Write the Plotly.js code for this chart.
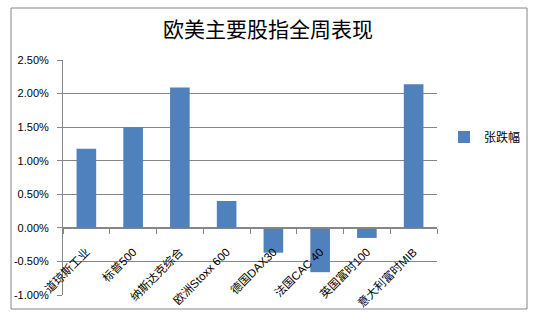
<!DOCTYPE html>
<html><head><meta charset="utf-8">
<script src="https://cdn.plot.ly/plotly-3.0.1.min.js"></script>
<style>html,body{margin:0;padding:0;background:#fff}</style>
</head><body><div id="c" style="width:540px;height:324px"></div>
<script>
const categories = ["道琼斯工业","标普500","纳斯达克综合","欧洲Stoxx 600","德国DAX30","法国CAC 40","英国富时100","意大利富时MIB"];
const values = [0.0118, 0.0150, 0.0209, 0.0040, -0.0037, -0.0066, -0.0015, 0.0214];
const seriesName = "张跌幅";
const yTicks = [-0.01,-0.005,0,0.005,0.01,0.015,0.02,0.025];
const yTickText = ["-1.00%","-0.50%","0.00%","0.50%","1.00%","1.50%","2.00%","2.50%"];

const font = "Liberation Sans, Noto Sans CJK SC, sans-serif";
const L=63, R=437, T=60, B=295;
const pw=R-L, ph=B-T;
const yMin=-0.01, yMax=0.025;
const zeroPos=(0-yMin)/(yMax-yMin);

Plotly.newPlot('c',[{
  type:'bar', x:categories, y:values, name:seriesName,
  marker:{color:'#4F81BD', line:{width:0}},
  showlegend:true
}],{
  width:540, height:324,
  margin:{l:L, r:540-R, t:T, b:324-B, pad:0},
  paper_bgcolor:'#fff', plot_bgcolor:'#fff',
  bargap:0.58,
  title:{text:'欧美主要股指全周表现', x:268/540, xref:'container', xanchor:'center', y:1-30/324, yanchor:'middle',
    font:{family:'Noto Sans CJK SC, sans-serif', size:21, color:'#000'}},
  xaxis:{anchor:'free', position:zeroPos, showline:true, linecolor:'#868686', linewidth:1,
    ticks:'outside', tickson:'boundaries', ticklen:5, tickcolor:'#868686', ticklabelstandoff:12,
    tickangle:-45, tickfont:{family:font, size:11.5, color:'#000'}, showgrid:false, zeroline:false},
  yaxis:{range:[yMin,yMax], tickvals:yTicks, ticktext:yTickText, showline:true, linecolor:'#868686',
    ticks:'outside', ticklen:5, tickcolor:'#868686', showgrid:true, gridcolor:'#868686', gridwidth:1,
    zeroline:false, tickfont:{family:font, size:11, color:'#000'}, ticklabelstandoff:6},
  legend:{x:(444-L)/pw, xanchor:'left', y:(B-137)/ph, yanchor:'middle', font:{family:font,size:12,color:'#000'},
    bgcolor:'rgba(0,0,0,0)'},
  shapes:[{type:'rect', xref:'paper', yref:'paper', x0:(11-L)/pw, x1:(527-L)/pw, y0:(B-309)/ph, y1:(B-8)/ph,
    line:{color:'#868686', width:1}, fillcolor:'rgba(0,0,0,0)', layer:'below'}]
},{displayModeBar:false, staticPlot:true});
</script></body></html>
